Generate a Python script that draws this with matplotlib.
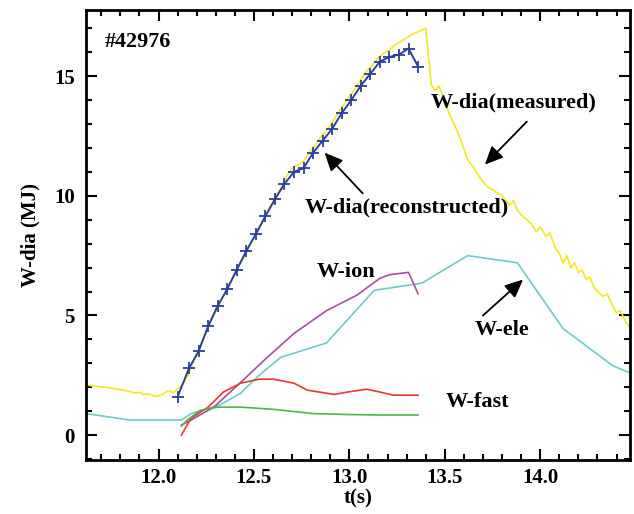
import matplotlib
matplotlib.use("Agg")
import matplotlib.pyplot as plt
from matplotlib.ticker import MultipleLocator

# W-dia measured (yellow)
t_meas = [11.62, 11.66, 11.70, 11.74, 11.78, 11.82, 11.86, 11.88, 11.90, 11.92,
          11.95, 11.98, 12.00, 12.02, 12.05, 12.08, 12.10, 12.13, 12.16, 12.19,
          12.22, 12.25, 12.28, 12.31, 12.34, 12.37, 12.40, 12.43, 12.46, 12.49,
          12.52, 12.55, 12.58, 12.61, 12.64, 12.67, 12.70, 12.73, 12.76, 12.79,
          12.82, 12.85, 12.88, 12.91, 12.94, 12.97, 13.00, 13.03, 13.06, 13.09,
          13.12, 13.15, 13.18, 13.21, 13.24, 13.27, 13.30, 13.33, 13.36, 13.40,
          13.43, 13.45, 13.47, 13.50, 13.53, 13.56, 13.59, 13.62, 13.65, 13.68,
          13.72, 13.76, 13.80, 13.84, 13.86, 13.88, 13.90, 13.93, 13.95, 13.98,
          14.00, 14.03, 14.05, 14.08, 14.10, 14.12, 14.14, 14.16, 14.18, 14.20,
          14.22, 14.24, 14.26, 14.28, 14.30, 14.33, 14.35, 14.38, 14.40, 14.42,
          14.45, 14.47]
w_meas = [2.10, 2.05, 2.02, 1.98, 1.92, 1.88, 1.80, 1.75, 1.80, 1.70,
          1.72, 1.62, 1.65, 1.70, 1.85, 1.78, 1.95, 2.15, 2.60, 3.20,
          3.75, 4.30, 4.85, 5.30, 5.80, 6.30, 6.80, 7.20, 7.60, 8.10,
          8.50, 9.00, 9.50, 9.90, 10.30, 10.80, 11.15, 11.30, 11.45, 11.80,
          12.10, 12.45, 12.75, 13.05, 13.45, 13.80, 14.15, 14.50, 14.85, 15.20,
          15.45, 15.75, 15.95, 16.10, 16.30, 16.45, 16.60, 16.75, 16.85, 17.00,
          14.60, 14.40, 14.60, 13.90, 13.30, 12.80, 12.20, 11.50, 11.20, 10.80,
          10.40, 10.20, 10.00, 9.60, 9.80, 9.40, 9.20, 9.00, 8.85, 8.50,
          8.70, 8.30, 8.45, 7.80, 7.60, 7.20, 7.50, 7.00, 7.20, 6.80,
          6.90, 6.50, 6.60, 6.20, 6.00, 5.80, 5.90, 5.40, 5.10, 5.20,
          4.70, 4.50]

# W-dia reconstructed (blue, +)
t_rec = [12.10, 12.16, 12.21, 12.26, 12.31, 12.36, 12.41, 12.46, 12.51, 12.56,
         12.61, 12.66, 12.71, 12.76, 12.81, 12.86, 12.91, 12.96, 13.01, 13.06,
         13.11, 13.16, 13.21, 13.26, 13.31, 13.36]
w_rec = [1.6, 2.8, 3.5, 4.55, 5.4, 6.1, 6.9, 7.7, 8.4, 9.15,
         9.85, 10.5, 11.0, 11.15, 11.8, 12.3, 12.8, 13.45, 14.0, 14.6,
         15.1, 15.6, 15.8, 15.9, 16.15, 15.4]

# W-ele (cyan)
t_ele = [11.62, 11.85, 12.12, 12.17, 12.32, 12.43, 12.52, 12.64, 12.88, 13.13,
         13.38, 13.62, 13.88, 14.12, 14.38, 14.47]
w_ele = [0.9, 0.63, 0.63, 0.9, 1.25, 1.75, 2.45, 3.25, 3.85, 6.05,
         6.35, 7.5, 7.2, 4.45, 2.9, 2.6]

# W-ion (magenta)
t_ion = [12.12, 12.17, 12.29, 12.43, 12.57, 12.71, 12.88, 13.04, 13.16, 13.21,
         13.31, 13.36]
w_ion = [0.42, 0.63, 1.17, 2.2, 3.25, 4.25, 5.2, 5.85, 6.55, 6.7,
         6.8, 5.9]

# W-fast (red)
t_fast = [12.12, 12.17, 12.26, 12.34, 12.43, 12.53, 12.60, 12.71, 12.78, 12.92,
          12.99, 13.09, 13.16, 13.23, 13.36]
w_fast = [0.0, 0.7, 1.17, 1.8, 2.17, 2.34, 2.34, 2.17, 1.88, 1.7,
          1.8, 1.92, 1.8, 1.67, 1.67]

# green
t_grn = [12.12, 12.15, 12.22, 12.31, 12.43, 12.60, 12.81, 13.00, 13.16, 13.36]
w_grn = [0.38, 0.63, 1.04, 1.17, 1.17, 1.08, 0.9, 0.86, 0.84, 0.84]

plt.rcParams['font.family'] = ['Liberation Serif', 'DejaVu Serif']
plt.rcParams['font.weight'] = 'bold'
FS = 15
FA = 16

fig = plt.figure(figsize=(6.34, 5.14), dpi=100)
ax = fig.add_axes([0.1356, 0.105, 0.858, 0.8755])

ax.plot(t_meas, w_meas, color='#f4e81e', lw=1.2)
ax.plot(t_rec, w_rec, color='#2b3f9e', lw=1.4, marker='+', ms=8, mew=1.3)
ax.plot(t_ele, w_ele, color='#6cc9cc', lw=1.2)
ax.plot(t_ion, w_ion, color='#a850a0', lw=1.2)
ax.plot(t_fast, w_fast, color='#e83a30', lw=1.2)
ax.plot(t_grn, w_grn, color='#4cb848', lw=1.2)

ax.set_xlim(11.62, 14.47)
ax.set_ylim(-1.04, 17.76)
ax.set_xticks([12.0, 12.5, 13.0, 13.5, 14.0])
ax.set_yticks([0, 5, 10, 15])
ax.xaxis.set_minor_locator(MultipleLocator(0.1))
ax.yaxis.set_minor_locator(MultipleLocator(1))
ax.tick_params(which='both', direction='in', top=True, right=True, width=1.5,
               labelsize=FS)
ax.tick_params(axis='x', pad=6)
ax.tick_params(axis='y', pad=8)
ax.tick_params(which='major', length=8)
ax.tick_params(which='minor', length=4)
for s in ax.spines.values():
    s.set_linewidth(2)

ax.set_xlabel('t(s)', fontsize=FS, fontweight='bold', labelpad=0)
ax.set_ylabel('W-dia (MJ)', fontsize=FS, fontweight='bold', labelpad=10)

ax.text(0.035, 0.93, '#42976', transform=ax.transAxes, fontsize=FA,
        fontweight='bold', ha='left', va='center')
ax.text(13.86, 13.9, 'W-dia(measured)', fontsize=FA, fontweight='bold',
        ha='center', va='center')
ax.text(13.30, 9.5, 'W-dia(reconstructed)', fontsize=FA, fontweight='bold',
        ha='center', va='center')
ax.text(12.98, 6.8, 'W-ion', fontsize=FA, fontweight='bold',
        ha='center', va='center')
ax.text(13.80, 4.4, 'W-ele', fontsize=FA, fontweight='bold',
        ha='center', va='center')
ax.text(13.67, 1.4, 'W-fast', fontsize=FA, fontweight='bold',
        ha='center', va='center')

arr = dict(arrowstyle='-|>,head_width=0.5,head_length=1.1', color='black',
           lw=1.3, shrinkA=0, shrinkB=0)
ax.annotate('', xy=(13.71, 11.3), xytext=(13.93, 13.1), arrowprops=arr)
ax.annotate('', xy=(12.87, 11.8), xytext=(13.07, 10.1), arrowprops=arr)
ax.annotate('', xy=(13.91, 6.5), xytext=(13.70, 5.0), arrowprops=arr)

fig.savefig('out.png', dpi=100)
